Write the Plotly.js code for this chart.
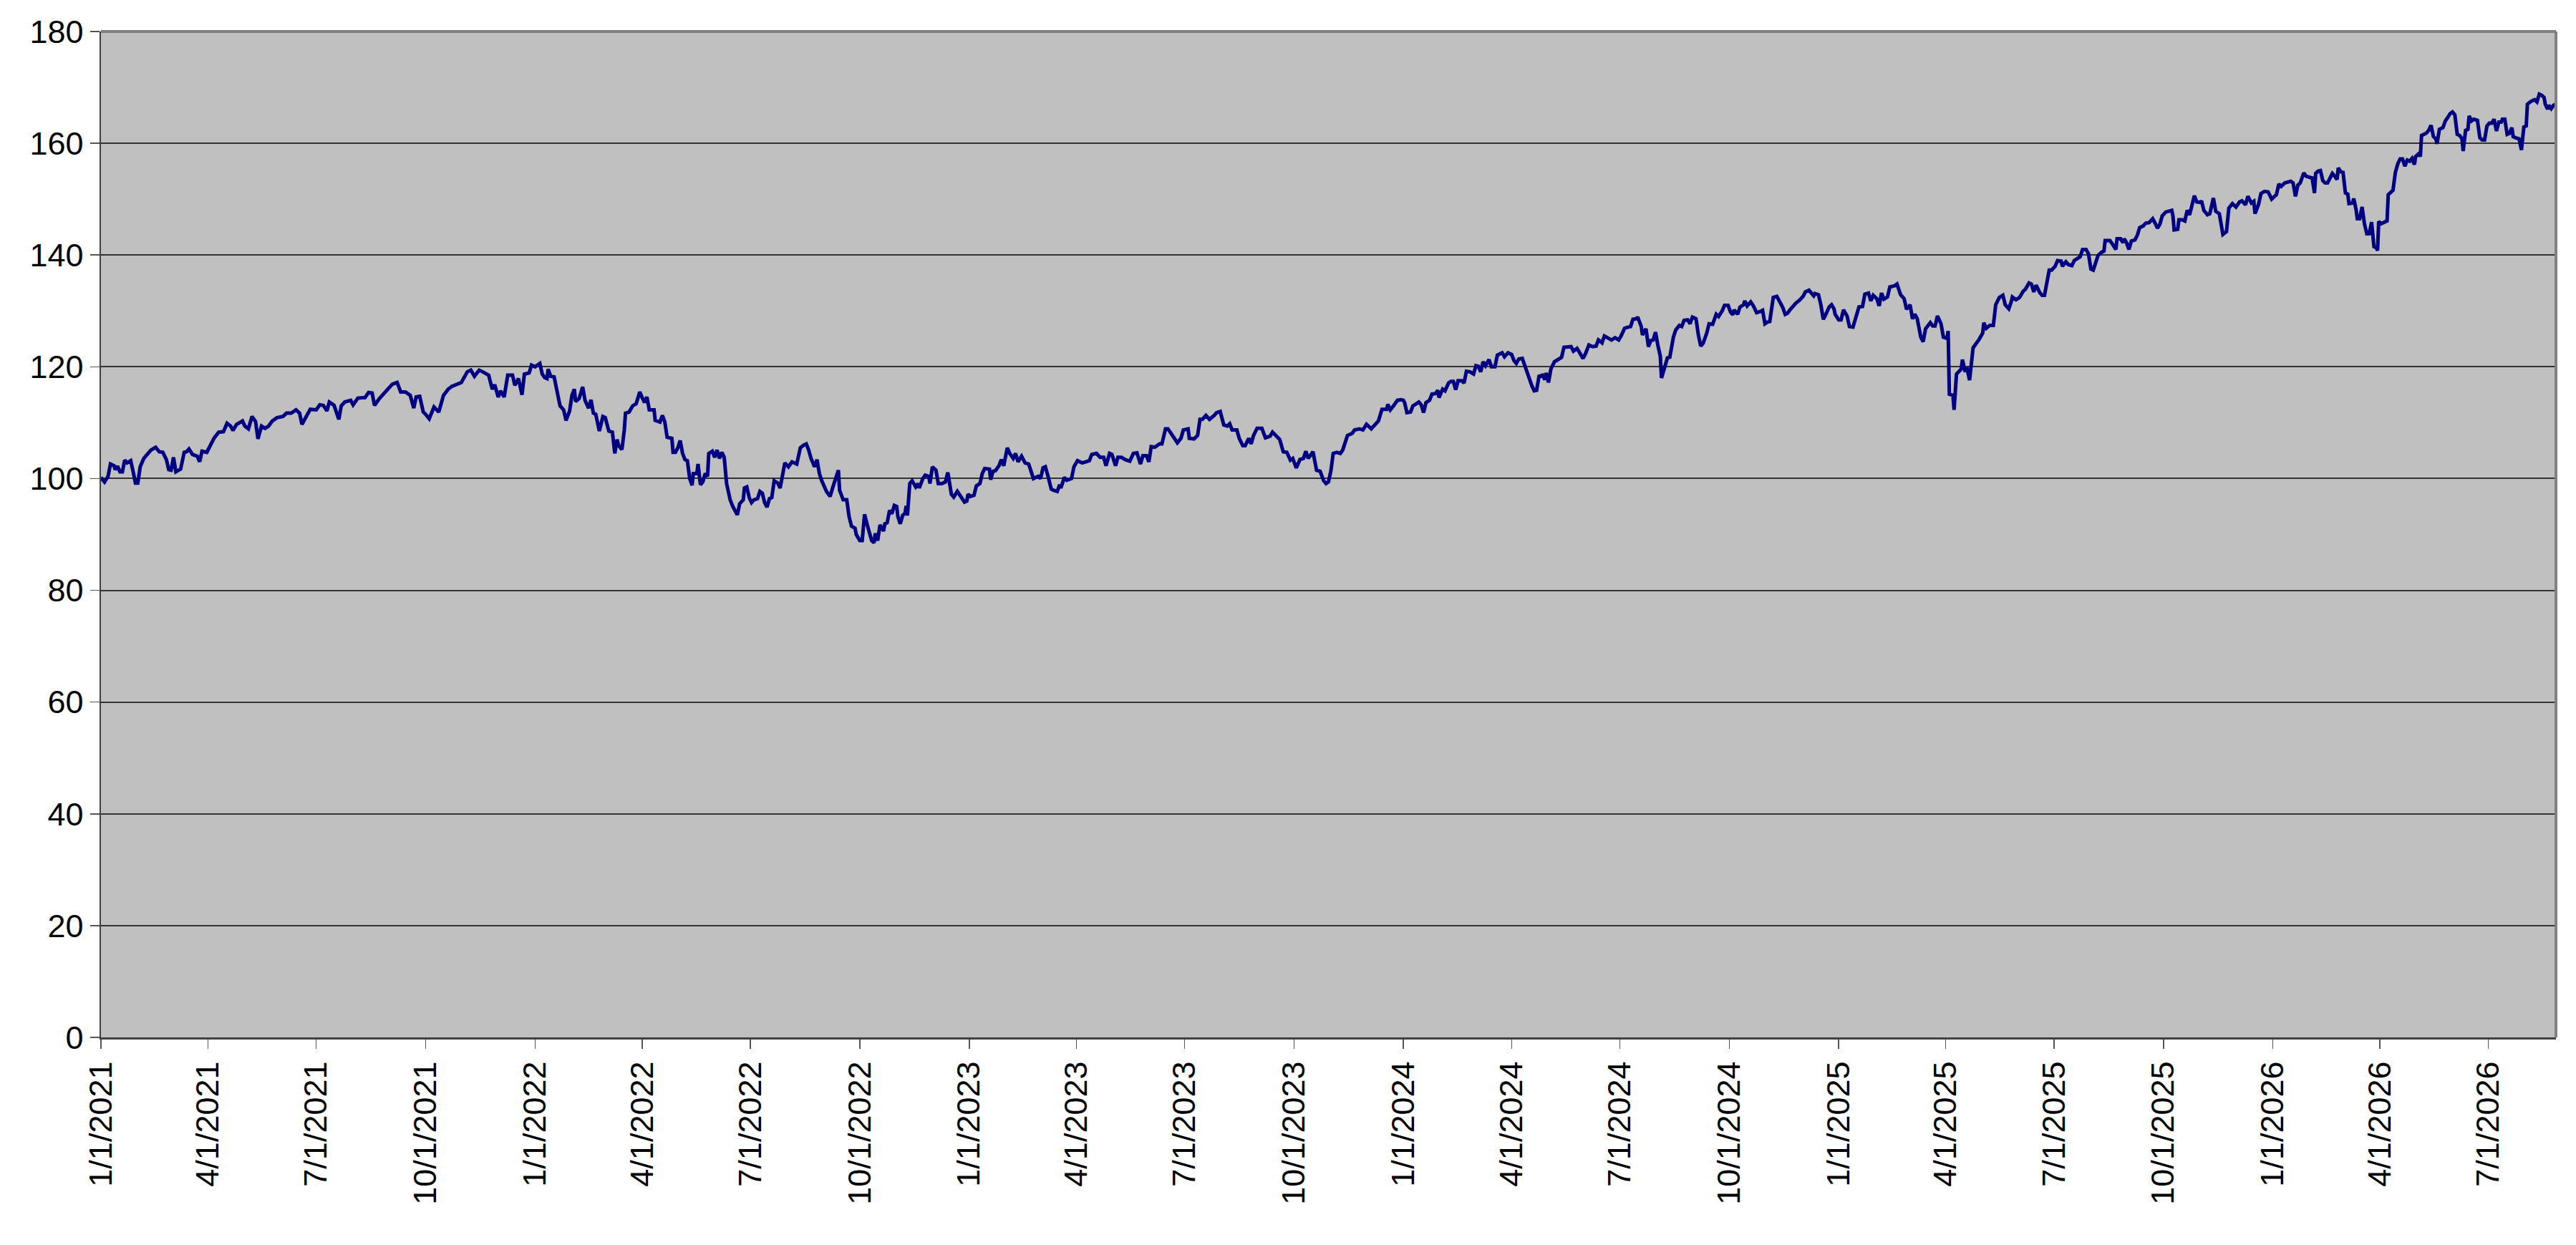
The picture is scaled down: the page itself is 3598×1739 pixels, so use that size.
<!DOCTYPE html>
<html>
<head>
<meta charset="utf-8">
<script src="https://cdn.plot.ly/plotly-3.0.1.min.js"></script>
<style>
  html, body { margin: 0; padding: 0; background: #ffffff; }
  #chart { width: 3598px; height: 1739px; }
</style>
</head>
<body>
<div id="chart"></div>
<script>
// series start, everything else is days counted from here
var startDate = '2021-01-01';
var endDate = '2026-08-27';

var dayOffsets = [
  0,3,6,8,11,12,14,16,18,20,22,25,27,29,31,33,36,39,42,46,49,52,55,57,59,61,63,67,70,72,74,77,81,83,85,89,92,95,99,103,106,109,111,114,119,121,124,127,130,132,135,138,141,144,148,153,156,160,164,167,169,173,176,181,184,187,190,192,196,200,202,205,210,212,216,222,225,228,230,234,238,241,245,249,252,256,260,263,265,268,271,273,276,280,284,288,292,295,299,303,308,311,314,318,321,326,329,331,334,336,339,342,346,348,351,354,356,
  360,362,365,369,371,373,375,376,378,381,384,386,389,391,394,396,398,399,402,405,407,410,412,414,416,419,422,424,427,430,432,434,435,438,440,441,444,447,450,453,455,457,459,461,465,466,470,472,474,476,480,481,483,485,487,489,491,493,495,497,498,501,502,504,506,508,510,511,514,516,518,520,522,524,526,529,531,535,537,540,541,543,545,547,549,552,554,556,558,560,562,564,566,569,571,573,575,578,581,585,588,591,593,595,597,600,602,604,606,610,613,616,618,620,621,624,627,629,631,634,635,638,640,642,644,646,648,650,651,653,655,658,659,661,663,665,667,669,670,672,674,676,677,678,680,682,685,687,688,691,693,696,697,699,702,704,707,710,712,715,717,720,724,726,
  728,729,731,734,736,739,741,743,747,748,750,752,755,757,759,762,764,767,769,771,774,777,780,782,784,788,790,792,794,796,799,801,804,806,807,810,812,816,818,821,825,828,831,833,837,840,843,845,848,850,853,855,858,861,865,868,871,874,876,879,881,883,886,890,892,895,897,899,902,905,908,910,914,915,919,922,924,926,929,932,936,938,941,944,947,949,951,955,957,960,962,965,967,969,972,976,979,983,985,988,991,994,997,1000,1002,1005,1008,1011,1013,1015,1019,1022,1025,1028,1030,1032,1034,1036,1039,1042,1044,1048,1052,1054,1058,1061,1064,1068,1071,1074,1077,1081,1082,1084,1087,1090,1093,
  1095,1096,1098,1101,1103,1106,1108,1110,1112,1114,1117,1119,1122,1124,1125,1128,1130,1133,1135,1137,1139,1141,1144,1146,1148,1151,1154,1156,1158,1160,1162,1164,1167,1169,1172,1174,1178,1180,1183,1186,1188,1190,1192,1195,1198,1201,1203,1205,1207,1209,1212,1214,1215,1217,1219,1222,1225,1228,1230,1233,1236,1238,1241,1243,1246,1248,1251,1254,1257,1259,1262,1264,1268,1270,1273,1276,1278,1281,1284,1286,1288,1291,1292,1295,1296,1299,1301,1303,1305,1307,1309,1311,1312,1314,1317,1319,1322,1324,1327,1329,1331,1334,1336,1338,1341,1343,1345,1347,1350,1352,1355,1358,1360,1363,1365,1368,1370,1372,1373,1376,1378,1381,1382,1384,1387,1389,1392,1395,1397,1399,1401,1403,1406,1409,1412,1414,1416,1418,1420,1422,1425,1428,1431,1433,1436,1438,1440,1441,1444,1446,1448,1450,1453,1455,1457,1458,1461,1463,1465,1468,1470,1473,
  1476,1477,1478,1481,1483,1486,1488,1490,1493,1495,1497,1499,1502,1504,1508,1510,1513,1516,1518,1521,1523,1525,1527,1530,1532,1534,1536,1538,1540,1542,1544,1547,1549,1552,1553,1554,1557,1558,1560,1562,1564,1565,1567,1569,1571,1574,1577,1579,1582,1583,1585,1588,1591,1593,1596,1599,1601,1604,1606,1607,1610,1613,1616,1618,1621,1623,1625,1627,1630,1632,1634,1636,1638,1640,1643,1645,1648,1649,1652,1654,1657,1659,1661,1664,1666,1669,1671,1673,1675,1677,1679,1682,1684,1685,1689,1691,1694,1695,1698,1700,1701,1703,1705,1707,1710,1712,1714,1717,1719,1722,1725,1727,1729,1731,1733,1736,1738,1741,1742,1743,1746,1747,1750,1752,1754,1756,1758,1760,1762,1765,1766,1768,1771,1773,1776,1778,1781,1783,1784,1787,1789,1792,1795,1798,1800,1803,1805,1808,1810,1811,1814,1816,1819,1822,1825,1827,1829,1831,1833,1836,1838,1841,1843,1845,1847,1849,1852,1854,1857,1859,
  1861,1862,1864,1866,1868,1870,1872,1874,1876,1878,1880,1881,1883,1885,1887,1889,1890,1893,1894,1896,1897,1899,1901,1903,1905,1907,1909,1911,1913,1914,1915,1917,1920,1922,1923,1925,1927,1929,1931,1933,1935,1937,1939,1941,1943,1945,1946,1949,1950,1951,1953,1955,1957,1959,1961,1963,1964,1966,1969,1971,1973,1975,1977,1979,1981,1983,1985,1986,1988,1990,1991,1993,1995,1998,2000,2002,2004,2006,2008,2010,2012,2014,2016,2018,2019,2021,2023,2025,2027,2028,2030,2033,2035,2036,2037,2039,2040,2043,2046,2048,2050,2052,2054,2055,2057,2058,2060,2062,2064
];

var indexValues = [
  100.2,99.4,100.4,102.6,102.3,101.6,102.2,101.2,101.2,103.3,102.8,103.2,101.3,99.2,99.2,102.1,103.6,104.3,105.1,105.6,104.8,104.7,103.4,101.6,101.5,103.8,101.2,101.7,104.7,104.8,105.3,104.3,104.0,103.0,104.9,104.7,106.0,107.2,108.3,108.4,109.9,109.4,108.6,109.7,110.3,109.4,108.9,111.1,110.2,107.1,109.4,109.0,109.4,110.3,110.9,111.1,111.7,111.7,112.3,111.7,109.7,111.1,112.4,112.3,113.2,113.1,112.1,113.7,113.1,110.6,113.0,113.7,114.0,113.2,114.4,114.5,115.4,115.3,113.1,114.3,115.3,116.0,116.9,117.2,115.5,115.5,114.9,112.6,114.6,114.7,111.9,111.5,110.7,112.8,111.9,114.9,116.0,116.5,116.9,117.2,119.1,119.4,118.3,119.4,119.1,118.5,116.0,116.8,114.6,115.7,114.6,118.5,118.5,116.7,117.9,115.0,118.7,
  118.9,120.3,120.0,120.6,118.7,118.1,117.9,119.6,118.3,118.2,115.3,113.0,112.3,110.4,112.1,114.9,116.0,113.8,114.3,116.4,114.0,112.6,114.1,111.7,111.5,108.5,111.1,110.9,108.5,108.3,104.5,107.0,106.0,105.2,108.7,111.7,111.9,113.0,113.4,115.5,114.5,113.6,114.6,112.3,112.3,110.4,110.1,111.3,110.2,107.4,107.2,104.7,104.7,105.5,106.8,104.5,103.4,103.2,100.0,98.8,100.9,100.9,102.6,98.9,99.4,100.9,100.4,104.5,104.9,103.8,105.1,103.6,104.7,103.8,99.1,96.2,95.1,93.5,95.5,96.2,98.3,98.5,96.6,95.7,96.2,96.4,97.7,97.4,95.7,94.9,96.4,96.6,99.6,99.2,98.3,100.9,102.8,102.1,103.0,102.6,105.5,106.0,106.2,105.1,103.6,102.1,103.4,100.9,99.6,97.7,96.8,98.9,100.2,101.5,97.9,96.2,96.2,93.2,91.5,91.1,90.0,88.9,88.9,93.6,91.9,90.6,88.9,88.5,90.2,88.9,91.7,90.6,91.9,92.1,94.3,93.7,95.2,95.0,93.2,91.9,93.4,93.8,95.1,93.4,99.1,99.6,98.5,99.1,98.3,100.0,100.6,100.4,99.1,102.1,101.5,99.1,99.1,99.4,101.1,97.2,96.7,97.7,96.6,95.8,
  96.0,97.2,96.8,97.0,98.7,99.1,100.9,101.8,101.7,99.8,101.3,101.4,102.3,103.4,102.3,105.5,104.5,103.6,104.5,103.0,104.0,102.8,102.6,101.3,100.0,100.4,100.0,101.9,102.1,100.6,98.1,97.9,97.7,98.9,98.3,100.2,99.7,100.0,102.1,103.2,102.8,103.0,103.2,104.3,104.5,103.8,103.8,102.3,104.5,104.3,102.3,103.8,103.8,103.4,103.1,104.5,104.6,102.6,104.1,104.1,103.0,105.7,105.6,106.2,106.2,108.9,108.9,108.3,107.2,106.4,107.2,108.7,108.9,107.2,107.1,107.7,110.6,110.6,111.3,110.6,111.3,111.8,112.0,109.6,109.4,109.8,108.7,108.7,107.2,105.9,105.9,107.2,106.2,107.7,109.0,109.0,107.3,107.6,108.3,107.7,107.0,104.8,104.7,103.3,103.6,101.9,103.4,103.6,104.9,103.6,104.8,101.5,101.3,99.6,99.1,99.4,101.3,104.5,104.7,104.5,105.1,107.7,108.1,108.7,108.9,108.7,109.7,108.9,109.7,110.3,112.4,112.4,113.3,112.3,113.1,114.0,114.1,
  114.0,113.6,111.8,111.9,113.0,113.4,113.7,113.2,111.8,113.6,114.0,115.1,115.2,115.8,114.5,116.0,115.7,117.1,117.4,117.4,115.9,117.5,117.5,117.1,119.2,119.1,118.7,120.2,120.1,119.1,120.9,120.2,121.3,120.0,120.0,122.1,122.5,121.8,122.5,122.2,121.1,120.6,121.4,121.5,119.6,117.9,116.6,115.7,115.8,118.3,118.5,117.7,118.9,117.2,119.6,120.9,121.3,121.7,123.5,123.5,123.6,122.8,123.3,122.6,121.5,122.3,123.9,123.6,123.7,124.8,124.3,125.5,125.0,124.8,125.2,124.8,125.5,126.9,127.1,127.2,128.5,128.6,128.9,127.2,125.7,126.8,123.6,124.7,124.8,126.2,123.8,121.9,118.0,119.4,121.6,121.7,125.3,126.6,127.4,127.2,128.3,128.4,127.7,128.9,128.6,125.7,123.7,124.2,126.0,127.7,127.6,129.4,129.0,130.0,131.0,131.0,129.8,129.3,130.2,129.4,130.7,131.1,131.8,130.9,131.6,131.0,129.7,129.9,130.1,127.7,128.0,128.1,132.4,132.6,131.5,130.6,129.4,129.6,130.2,130.7,131.4,131.9,132.6,133.4,133.7,133.2,132.7,133.1,132.9,131.1,128.5,129.3,130.7,131.1,130.4,129.4,128.4,128.4,130.2,129.1,127.2,127.1,
  129.4,129.8,130.7,130.8,133.0,133.2,131.8,132.8,132.2,130.9,133.2,132.1,132.5,134.3,134.5,134.8,132.9,132.2,130.3,131.1,128.6,129.4,128.6,125.3,124.5,126.8,127.3,127.9,127.3,127.3,129.1,127.7,125.3,125.1,126.4,115.1,114.9,112.3,118.7,119.2,119.6,121.3,119.4,119.6,117.6,123.4,124.2,124.9,126.0,127.9,126.9,127.4,127.4,131.1,132.4,132.8,131.1,130.4,131.6,132.5,132.0,132.4,133.5,133.9,135.0,134.8,133.4,134.6,133.3,132.8,132.8,135.4,137.3,137.3,138.0,139.0,138.9,138.0,138.8,138.3,138.1,139.0,139.3,139.7,141.0,141.0,140.2,137.5,137.3,138.8,139.9,140.5,140.7,142.6,142.6,142.0,141.0,142.9,142.9,142.2,142.9,142.2,141.0,142.5,142.7,143.5,144.9,145.2,145.7,145.8,146.5,145.7,144.8,145.5,147.0,147.7,147.8,148.0,147.0,144.5,144.6,146.3,146.3,146.1,148.0,147.2,148.9,150.6,149.5,149.4,149.7,148.0,147.2,147.4,150.2,147.8,147.4,144.8,143.7,144.2,148.4,149.2,148.6,149.5,149.7,149.0,150.5,149.3,149.6,147.4,149.1,151.0,151.4,151.3,150.0,150.4,150.8,152.7,152.3,152.9,153.0,153.2,152.9,150.5,152.5,152.9,154.7,154.1,153.9,153.8,
  151.1,154.6,155.0,155.1,153.3,152.9,152.9,153.7,154.6,154.1,153.5,155.6,154.9,154.8,151.1,150.9,149.2,149.3,150.1,148.1,146.5,146.5,148.6,145.6,143.8,143.8,145.9,141.5,141.3,140.8,146.0,145.6,145.8,146.1,150.8,151.3,151.6,154.8,156.3,157.2,157.2,155.9,157.0,156.8,157.3,156.2,157.6,158.2,157.6,161.4,161.6,161.8,162.3,163.2,161.2,160.8,159.9,162.5,162.8,164.0,164.6,165.3,165.6,165.1,161.6,161.4,160.8,158.6,162.3,162.5,164.9,164.0,164.3,164.1,161.0,160.6,160.6,163.1,163.6,163.6,164.3,162.2,163.8,163.8,164.3,164.3,161.6,161.8,162.8,161.2,161.0,160.8,158.8,161.0,162.9,163.1,167.0,167.5,167.8,167.4,168.8,168.6,168.2,167.0,166.1,166.8,166.2,166.8,167.0
];

var yTicks = [0, 20, 40, 60, 80, 100, 120, 140, 160, 180];

var toDateString = function (offset) {
    var t = Date.UTC(2021, 0, 1) + offset * 86400000;
    return new Date(t).toISOString().slice(0, 10);
};

var dates = dayOffsets.map(toDateString);

var axisFont = {family: 'Liberation Sans, Arial, sans-serif', size: 45, color: '#000000'};

var trace = {
    x: dates,
    y: indexValues,
    type: 'scatter',
    mode: 'lines',
    line: {color: '#000080', width: 5},
    hoverinfo: 'skip'
};

var layout = {
    width: 3598,
    height: 1739,
    margin: {l: 141, r: 28, t: 44, b: 290, pad: 0},
    paper_bgcolor: '#ffffff',
    plot_bgcolor: '#c0c0c0',
    showlegend: false,
    xaxis: {
        type: 'date',
        range: [startDate, endDate],
        tickmode: 'linear',
        tick0: startDate,
        dtick: 'M3',
        tickformat: '%-m/%-d/%Y',
        tickangle: -90,
        ticks: 'outside',
        ticklen: 13,
        tickwidth: 1.5,
        tickcolor: '#555555',
        showgrid: false,
        zeroline: false,
        showline: true,
        linecolor: '#404040',
        linewidth: 2.5,
        tickfont: axisFont
    },
    yaxis: {
        range: [0, 180],
        tickmode: 'array',
        tickvals: yTicks,
        ticktext: yTicks.map(String),
        ticks: 'outside',
        ticklen: 13,
        tickwidth: 1.5,
        tickcolor: '#555555',
        showgrid: true,
        gridcolor: '#333333',
        gridwidth: 2,
        zeroline: false,
        showline: true,
        linecolor: '#404040',
        linewidth: 2.5,
        tickfont: axisFont
    },
    shapes: [
        {type: 'line', xref: 'paper', yref: 'paper', x0: 0, x1: 1, y0: 1, y1: 1,
         line: {color: '#808080', width: 4}},
        {type: 'line', xref: 'paper', yref: 'paper', x0: 1, x1: 1, y0: 0, y1: 1,
         line: {color: '#808080', width: 4}}
    ]
};

Plotly.newPlot('chart', [trace], layout, {staticPlot: true, displayModeBar: false});
</script>
</body>
</html>
